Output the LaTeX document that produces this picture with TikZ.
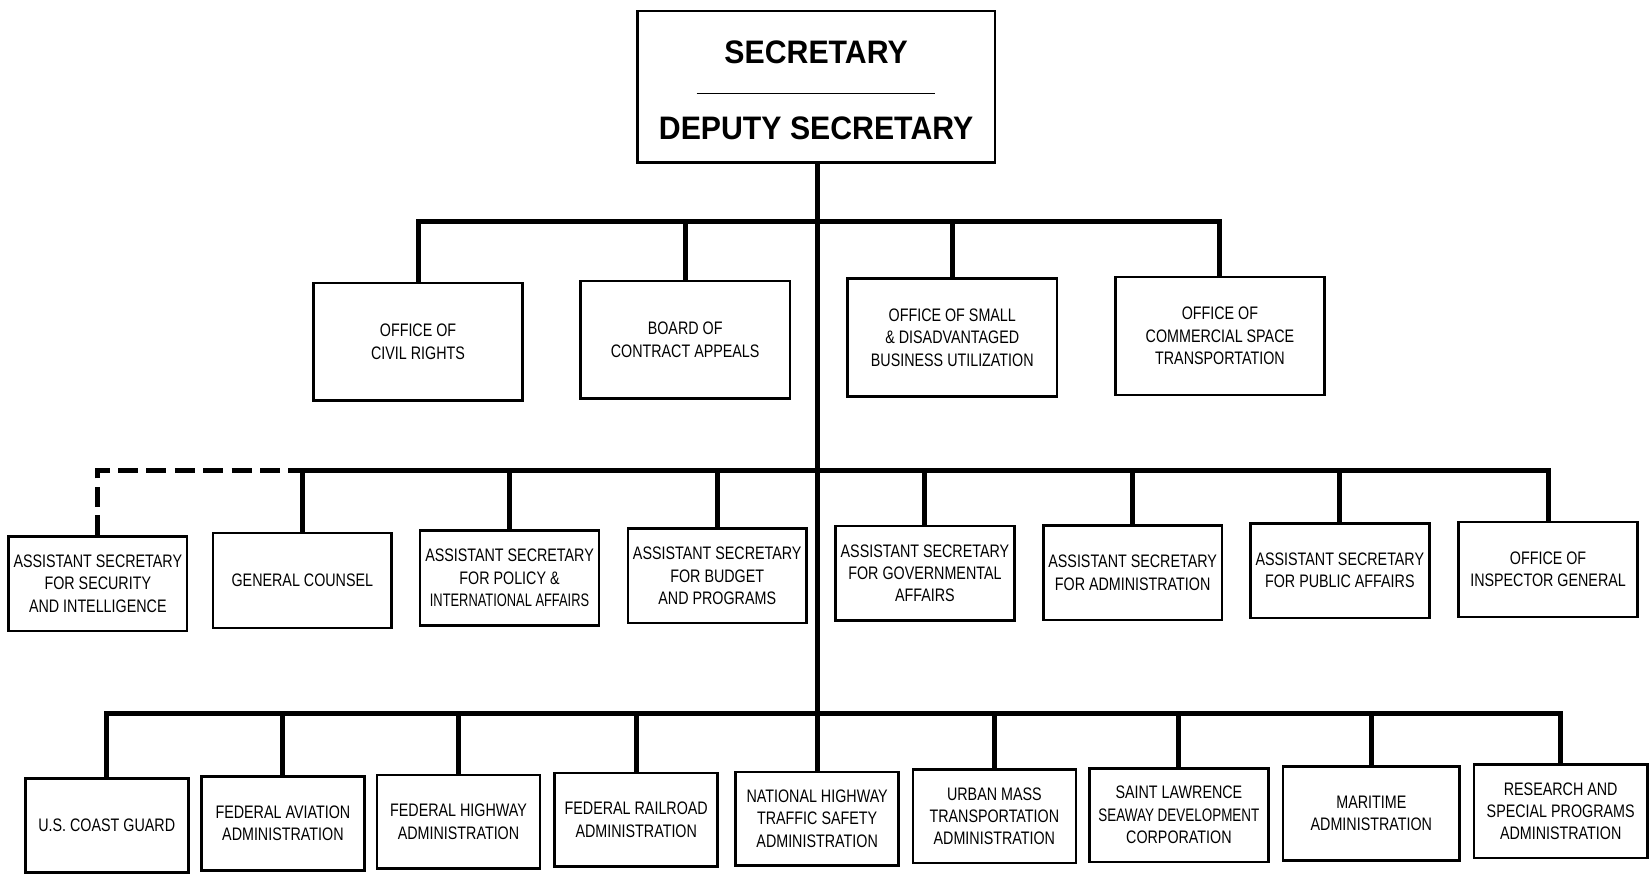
\documentclass[tikz,border=0pt]{standalone}
\usepackage{fontspec}
\usepackage{graphicx}
\setmainfont{Liberation Sans}
\newfontfamily\orgfont[FakeStretch=0.79]{Liberation Sans}
\newfontfamily\headfont[FakeStretch=0.93]{Liberation Sans}

\begin{document}
\begin{tikzpicture}[
    x=0.2mm, y=-0.2mm,
    unit/.style={draw, line width=1.4pt, align=center, inner sep=0pt, font=\orgfont\fontsize{9.8}{12.07}\selectfont},
    staff/.style={unit, minimum width=39.8mm, minimum height=22.4mm},
    asst/.style={unit, minimum width=34mm, minimum height=18mm},
    agency/.style={unit, minimum width=31mm, minimum height=17.8mm},
    bus/.style={line width=2.7pt},
    dotline/.style={bus, dash pattern=on 3.8mm off 1.6mm}
  ]
    \useasboundingbox (0,0) rectangle (1568,832);

    \node[unit, minimum width=68mm, minimum height=28.8mm, font=\headfont\bfseries\fontsize{17.6}{21}\selectfont] (sec) at (776,82.5)
      {\rule{0pt}{16pt}SECRETARY\\[-4.6pt]\rule{45.4mm}{0.7pt}\\[3.5pt]DEPUTY SECRETARY};

    \node[staff] (civil) at (397.5,325) {OFFICE OF\\CIVIL RIGHTS};
    \node[staff] (board) at (651.5,323) {BOARD OF\\CONTRACT APPEALS};
    \node[staff] (small) at (905.5,321) {OFFICE OF SMALL\\\& DISADVANTAGED\\BUSINESS UTILIZATION};
    \node[staff] (space) at (1160,319.5) {OFFICE OF\\COMMERCIAL SPACE\\TRANSPORTATION};

    \node[asst] (security) at (93,555) {ASSISTANT SECRETARY\\FOR SECURITY\\AND INTELLIGENCE};
    \node[asst] (counsel) at (287.5,552) {GENERAL COUNSEL};
    \node[asst] (policy) at (484.5,549.5) {ASSISTANT SECRETARY\\FOR POLICY \&\\\scalebox{0.9}[1]{INTERNATIONAL AFFAIRS}};
    \node[asst] (budget) at (682,547.5) {ASSISTANT SECRETARY\\FOR BUDGET\\AND PROGRAMS};
    \node[asst] (govt) at (879.5,545) {ASSISTANT SECRETARY\\FOR GOVERNMENTAL\\AFFAIRS};
    \node[asst] (admin) at (1077,544.5) {ASSISTANT SECRETARY\\FOR ADMINISTRATION};
    \node[asst] (public) at (1274,542.5) {ASSISTANT SECRETARY\\FOR PUBLIC AFFAIRS};
    \node[asst] (inspector) at (1472,541.5) {OFFICE OF\\INSPECTOR GENERAL};

    \node[agency] (guard) at (101.5,785) {U.S. COAST GUARD};
    \node[agency] (faa) at (269,783) {FEDERAL AVIATION\\ADMINISTRATION};
    \node[agency] (fhwa) at (436,781.5) {FEDERAL HIGHWAY\\ADMINISTRATION};
    \node[agency] (fra) at (605,779.5) {FEDERAL RAILROAD\\ADMINISTRATION};
    \node[agency] (nhtsa) at (777,778.5) {NATIONAL HIGHWAY\\TRAFFIC SAFETY\\ADMINISTRATION};
    \node[agency] (umta) at (945.5,776) {URBAN MASS\\TRANSPORTATION\\ADMINISTRATION};
    \node[agency, minimum width=34mm] (seaway) at (1121,775) {SAINT LAWRENCE\\\scalebox{0.94}[1]{SEAWAY DEVELOPMENT}\\CORPORATION};
    \node[agency, minimum width=33.6mm] (maritime) at (1304,773.5) {MARITIME\\ADMINISTRATION};
    \node[agency, minimum width=33mm] (research) at (1484,771.5) {RESEARCH AND\\SPECIAL PROGRAMS\\ADMINISTRATION};

    \coordinate (r1) at (777,211);
    \coordinate (r2) at (777,447);
    \coordinate (r3) at (777,678);

    \draw[bus] (sec.south -| nhtsa.north) -- (nhtsa.north);

    \draw[bus] (civil.north) |- (r1) -| (space.north);
    \foreach \n in {board, small}
      \draw[bus] (\n.north) -- (\n.north |- r1);

    \draw[bus] (counsel.north) |- (r2) -| (inspector.north);
    \foreach \n in {policy, budget, govt, admin, public}
      \draw[bus] (\n.north) -- (\n.north |- r2);
    \draw[dotline] (security.north) |- (counsel.north |- r2);

    \draw[bus] (guard.north) |- (r3) -| (research.north);
    \foreach \n in {faa, fhwa, fra, umta, seaway, maritime}
      \draw[bus] (\n.north) -- (\n.north |- r3);
  \end{tikzpicture}
\end{document}
